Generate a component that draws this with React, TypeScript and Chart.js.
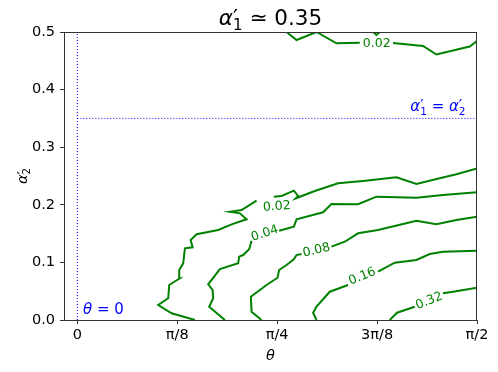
import React, { useEffect, useRef } from 'react';
import { Chart, registerables } from 'chart.js';

Chart.register(...registerables);

const PI = Math.PI;
const X_MIN = -0.0524;
const X_MAX = PI / 2;
const Y_MIN = 0;
const Y_MAX = 0.5;

const xTickValues = [0, PI / 8, PI / 4, (3 * PI) / 8, PI / 2];
const xTickLabels = ['0', 'π/8', 'π/4', '3π/8', 'π/2'];
const yTickValues = [0, 0.1, 0.2, 0.3, 0.4, 0.5];
const yTickLabels = ['0.0', '0.1', '0.2', '0.3', '0.4', '0.5'];

// contour level 0.02 (lower branch), split at the inline label
const c002LowA = [
  [0.4621, 0], [0.3706, 0.0116], [0.318, 0.026], [0.3572, 0.0377], [0.3612, 0.0608],
  [0.4032, 0.0724], [0.4004, 0.0868], [0.4161, 0.0984], [0.4228, 0.1245], [0.4531, 0.1262],
  [0.4452, 0.1389], [0.4688, 0.1488], [0.5536, 0.1563], [0.6062, 0.1661], [0.6651, 0.1748],
  [0.6388, 0.1852], [0.5995, 0.188], [0.6455, 0.191], [0.7044, 0.2071],
];
const c002LowB = [
  [0.7723, 0.2141], [0.8026, 0.2153], [0.8509, 0.2245], [0.8677, 0.2153], [0.8587, 0.2113],
  [0.9333, 0.224], [1.0248, 0.2373], [1.123, 0.2413], [1.2542, 0.2477], [1.3327, 0.2361],
  [1.4242, 0.246], [1.4898, 0.253], [1.5708, 0.263],
];
// contour level 0.04
const c004A = [
  [0.5799, 0], [0.5182, 0.0231], [0.534, 0.0377], [0.5316, 0.0521], [0.5143, 0.062],
  [0.5603, 0.0885], [0.6321, 0.0984], [0.6361, 0.1099], [0.6518, 0.1128], [0.6753, 0.1227],
  [0.6848, 0.1377],
];
const c004B = [
  [0.7931, 0.155], [0.8509, 0.162], [0.8615, 0.1748], [0.9659, 0.187], [0.9989, 0.2014],
  [1.1034, 0.2009], [1.1756, 0.2141], [1.3327, 0.2123], [1.4372, 0.217], [1.5708, 0.2217],
];
// contour level 0.08
const c008A = [
  [0.724, 0], [0.6848, 0.0144], [0.682, 0.0405], [0.7437, 0.0608], [0.7869, 0.0734],
  [0.7931, 0.0868], [0.8222, 0.0955], [0.8509, 0.1054], [0.8615, 0.1128], [0.8811, 0.1146],
];
const c008B = [
  [0.9989, 0.1273], [1.0511, 0.1359], [1.1034, 0.1505], [1.1819, 0.1563], [1.3327, 0.1722],
  [1.4113, 0.1663], [1.4898, 0.1736], [1.5708, 0.1792],
];
// contour level 0.16
const c016A = [
  [0.94, 0], [0.9267, 0.0127], [0.94, 0.0231], [0.9922, 0.0491], [1.0641, 0.0608],
];
const c016B = [
  [1.1819, 0.0839], [1.2475, 0.0995], [1.3327, 0.1042], [1.3849, 0.1146], [1.4372, 0.1186],
  [1.5708, 0.1203],
];
// contour level 0.32
const c032A = [
  [1.2278, 0], [1.2565, 0.0127], [1.326, 0.0231],
];
const c032B = [
  [1.4372, 0.0464], [1.4764, 0.0491], [1.5708, 0.0561],
];
// contour level 0.02 (upper branch)
const c002TopA = [
  [0.8222, 0.5], [0.8615, 0.4861], [0.94, 0.5], [1.0185, 0.4804], [1.11, 0.4813],
];
const c002TopB = [
  [1.2408, 0.4809], [1.3586, 0.4757], [1.4113, 0.4609], [1.542, 0.4748], [1.5708, 0.4844],
];
const c002TopDip = [
  [1.1623, 0.5], [1.1756, 0.4948], [1.1886, 0.5],
];

const contourSegments = [c002LowA, c002LowB, c004A, c004B, c008A, c008B, c016A, c016B, c032A, c032B, c002TopA, c002TopB, c002TopDip];

// inline contour labels: text, anchor (data coords), rotation (deg)
const labelTexts = ['0.02', '0.04', '0.08', '0.16', '0.32', '0.02'];
const labelX = [0.7841, 0.737, 0.94, 1.1199, 1.383, 1.1768];
const labelY = [0.1967, 0.1502, 0.1207, 0.0755, 0.033, 0.4792];
const labelRot = [-4, -18, -13, -22, -22, 0];

const ALPHA_EQ = 0.35; // horizontal reference line alpha'_1 = alpha'_2

type Part = { t: string; it?: boolean; prime?: boolean; sub?: string };

const FONT = "'DejaVu Sans', sans-serif";

function drawMath(
  ctx: CanvasRenderingContext2D,
  parts: Part[],
  x: number,
  y: number,
  size: number,
  color: string,
  align: 'left' | 'center' | 'right'
) {
  const f = (s: number, it?: boolean) => `${it ? 'oblique ' : ''}${s}px ${FONT}`;
  const subSize = size * 0.7;
  const widths = parts.map((p) => {
    ctx.font = f(size, p.it);
    const w = ctx.measureText(p.t).width;
    let extra = 0;
    if (p.prime) {
      ctx.font = f(size);
      extra = Math.max(extra, ctx.measureText('′').width);
    }
    if (p.sub) {
      ctx.font = f(subSize);
      extra = Math.max(extra, ctx.measureText(p.sub).width);
    }
    return { w, extra };
  });
  const total = widths.reduce((a, b) => a + b.w + b.extra, 0);
  let cx = align === 'left' ? x : align === 'center' ? x - total / 2 : x - total;
  ctx.save();
  ctx.fillStyle = color;
  ctx.textBaseline = 'alphabetic';
  ctx.textAlign = 'left';
  parts.forEach((p, i) => {
    ctx.font = f(size, p.it);
    ctx.fillText(p.t, cx, y);
    cx += widths[i].w;
    if (p.prime) {
      ctx.font = f(size);
      ctx.fillText('′', cx, y);
    }
    if (p.sub) {
      ctx.font = f(subSize);
      ctx.fillText(p.sub, cx, y + size * 0.22);
    }
    cx += widths[i].extra;
  });
  ctx.restore();
}

const decorPlugin = {
  id: 'decor',
  afterDatasetsDraw(chart: any) {
    const ctx: CanvasRenderingContext2D = chart.ctx;
    const xs = chart.scales.x;
    const ys = chart.scales.y;
    const a = chart.chartArea;
    // contour labels
    ctx.save();
    ctx.fillStyle = '#008000';
    ctx.font = `12.5px ${FONT}`;
    ctx.textAlign = 'center';
    ctx.textBaseline = 'middle';
    labelTexts.forEach((t, i) => {
      const px = xs.getPixelForValue(labelX[i]);
      const py = ys.getPixelForValue(labelY[i]);
      ctx.save();
      ctx.translate(px, py);
      ctx.rotate((labelRot[i] * PI) / 180);
      ctx.fillText(t, 0, 0);
      ctx.restore();
    });
    ctx.restore();

    // annotations
    drawMath(ctx, [{ t: 'θ', it: true }, { t: ' = 0' }], xs.getPixelForValue(0.022), ys.getPixelForValue(0.011), 15, '#0000ff', 'left');
    drawMath(
      ctx,
      [{ t: 'α', it: true, prime: true, sub: '1' }, { t: ' = ' }, { t: 'α', it: true, prime: true, sub: '2' }],
      xs.getPixelForValue(X_MAX - 0.045),
      ys.getPixelForValue(ALPHA_EQ + 0.012),
      15,
      '#0000ff',
      'right'
    );

    // frame
    ctx.save();
    ctx.strokeStyle = '#333';
    ctx.lineWidth = 1;
    ctx.strokeRect(Math.round(a.left) + 0.5, Math.round(a.top) + 0.5, Math.round(a.right - a.left) - 1, Math.round(a.bottom - a.top));
    ctx.restore();

    // title and axis titles
    const midX = (a.left + a.right) / 2;
    drawMath(ctx, [{ t: 'α', it: true, prime: true, sub: '1' }, { t: ' ≃ 0.35' }], midX, 25, 21.5, '#000', 'center');
    drawMath(ctx, [{ t: 'θ', it: true }], midX, 360, 14.5, '#000', 'center');
    ctx.save();
    ctx.translate(27, (a.top + a.bottom) / 2);
    ctx.rotate(-PI / 2);
    drawMath(ctx, [{ t: 'α', it: true, prime: true, sub: '2' }], 0, 0, 14.5, '#000', 'center');
    ctx.restore();
  },
};

export default function App() {
  const ref = useRef<HTMLCanvasElement>(null);
  useEffect(() => {
    if (!ref.current) return;
    Chart.defaults.font.family = FONT;
    const datasets: any[] = contourSegments.map((seg) => ({
      data: seg.map(([x, y]) => ({ x, y })),
      showLine: true,
      borderColor: '#008000',
      borderWidth: 2,
      pointRadius: 0,
      fill: false,
      tension: 0,
    }));
    datasets.push({
      data: [{ x: 0, y: Y_MIN }, { x: 0, y: Y_MAX }],
      showLine: true,
      borderColor: '#0000ff',
      borderWidth: 1,
      borderDash: [1, 2],
      pointRadius: 0,
    });
    datasets.push({
      data: [{ x: 0, y: ALPHA_EQ }, { x: X_MAX, y: ALPHA_EQ }],
      showLine: true,
      borderColor: '#0000ff',
      borderWidth: 1,
      borderDash: [1, 2],
      pointRadius: 0,
    });
    const chart = new Chart(ref.current, {
      type: 'scatter',
      data: { datasets },
      options: {
        animation: false,
        responsive: false,
        devicePixelRatio: 1,
        layout: { padding: { left: 0, right: 21, top: 32, bottom: 0 } },
        plugins: { legend: { display: false }, tooltip: { enabled: false }, title: { display: false } },
        scales: {
          x: {
            type: 'linear',
            min: X_MIN,
            max: X_MAX,
            afterBuildTicks: (s: any) => {
              s.ticks = xTickValues.map((v) => ({ value: v }));
            },
            afterFit: (s: any) => {
              s.height = 52;
            },
            ticks: {
              autoSkip: false,
              maxRotation: 0,
              padding: 3,
              color: '#000',
              font: { size: 14.5, family: FONT },
              callback: (_v: any, i: number) => xTickLabels[i],
            },
            grid: { drawOnChartArea: false, drawTicks: true, tickLength: 4, color: '#333' },
            border: { display: true, color: '#333', width: 1 },
          },
          y: {
            type: 'linear',
            min: Y_MIN,
            max: Y_MAX,
            afterBuildTicks: (s: any) => {
              s.ticks = yTickValues.map((v) => ({ value: v }));
            },
            afterFit: (s: any) => {
              s.width = 64;
            },
            ticks: {
              autoSkip: false,
              padding: 5,
              color: '#000',
              font: { size: 14.5, family: FONT },
              callback: (_v: any, i: number) => yTickLabels[i],
            },
            grid: { drawOnChartArea: false, drawTicks: true, tickLength: 4, color: '#333' },
            border: { display: true, color: '#333', width: 1 },
          },
        },
      },
      plugins: [decorPlugin],
    });
    return () => chart.destroy();
  }, []);
  return (
    <div style={{ position: 'fixed', left: 0, top: 0, width: 498, height: 372, background: '#fff' }}>
      <canvas ref={ref} width={498} height={372} style={{ display: 'block', width: 498, height: 372 }} />
    </div>
  );
}
